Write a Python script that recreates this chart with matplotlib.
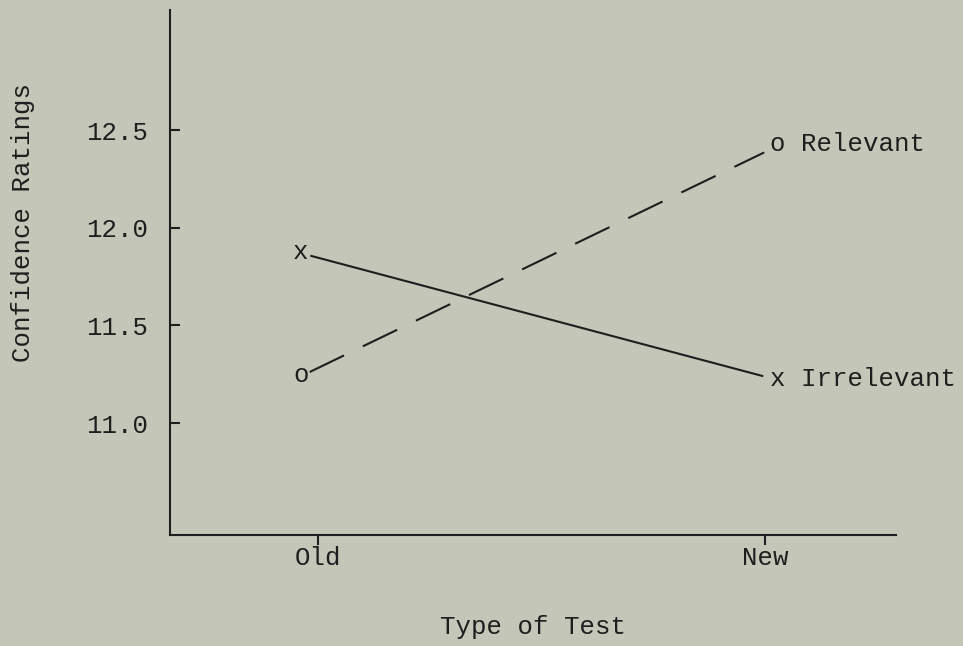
import matplotlib
matplotlib.use('Agg')
import matplotlib.pyplot as plt

# ---- data ----
categories = ['Old', 'New']
relevant = [11.24, 12.42]
irrelevant = [11.87, 11.22]
series_names = ['Relevant', 'Irrelevant']
series_symbols = ['o', 'x']
y_ticks = [11.0, 11.5, 12.0, 12.5]
y_ticklabels = ['11.0', '11.5', '12.0', '12.5']
x_title = 'Type of Test'
y_title = 'Confidence Ratings'

# ---- style ----
BG = '#c4c7b8'
INK = '#1e1e1e'
FONT = 'Liberation Mono'
FS = 18.5
LW = 1.5
marker_nudge = [-0.038, 0.029]   # typed symbols sit slightly off the tick positions

plt.rcParams['font.family'] = [FONT, 'DejaVu Sans']
plt.rcParams['text.color'] = INK

fig = plt.figure(figsize=(9.63, 6.46), dpi=100, facecolor=BG)
ax = fig.add_axes([0.1765, 0.1718, 0.754, 0.8127])
ax.set_facecolor(BG)

xpos = list(range(len(categories)))
ax.set_xlim(-0.331, 1.293)
ax.set_ylim(10.427, 13.115)

for s in ['top', 'right']:
    ax.spines[s].set_visible(False)
for s in ['left', 'bottom']:
    ax.spines[s].set_color(INK)
    ax.spines[s].set_linewidth(LW)

ax.set_xticks(xpos)
ax.set_xticklabels(categories)
ax.set_yticks(y_ticks)
ax.set_yticklabels(y_ticklabels)
ax.tick_params(axis='y', direction='in', length=7, width=LW, color=INK,
               pad=16, labelsize=FS, labelcolor=INK)
ax.tick_params(axis='x', direction='out', length=7, width=LW, color=INK,
               pad=1, labelsize=FS, labelcolor=INK)

ax.set_xlabel(x_title, fontsize=FS, color=INK, labelpad=32)
ax.set_ylabel(y_title, fontsize=FS, color=INK)
ax.yaxis.set_label_coords(-0.186, 0.595)

series = [
    (relevant, series_symbols[0], series_names[0], (0, (18.3, 10.0))),
    (irrelevant, series_symbols[1], series_names[1], '-'),
]

xm = [xpos[i] + marker_nudge[i] for i in range(len(xpos))]

for vals, sym, name, ls in series:
    # connecting line, shortened so it stops at the typed symbols
    ax.annotate('', xy=(xm[1], vals[1]), xytext=(xm[0], vals[0]),
                xycoords='data', textcoords='data',
                arrowprops=dict(arrowstyle='-', shrinkA=7, shrinkB=11,
                                lw=LW, color=INK, linestyle=ls,
                                capstyle='butt'))
    # Old symbol
    ax.annotate(sym, xy=(xm[0], vals[0]), xytext=(0, -4),
                textcoords='offset points', ha='center', va='baseline',
                fontsize=FS, color=INK)
    # New symbol with series label
    ax.annotate(sym + ' ' + name, xy=(xm[1], vals[1]), xytext=(-5.5, -4),
                textcoords='offset points', ha='left', va='baseline',
                fontsize=FS, color=INK, annotation_clip=False)

fig.savefig('out.png', dpi=100, facecolor=BG)
